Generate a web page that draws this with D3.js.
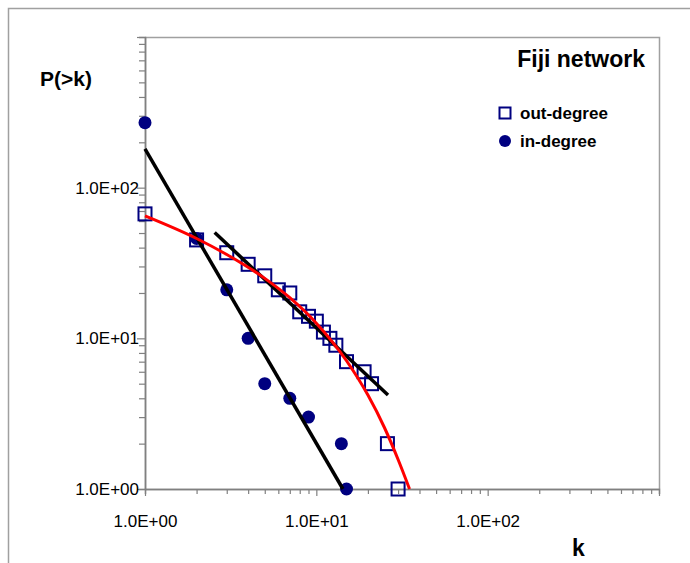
<!DOCTYPE html>
<html>
<head>
<meta charset="utf-8">
<script src="https://cdn.jsdelivr.net/npm/d3@7"></script>
<style>
  body { margin: 0; background: #fff; }
  text { font-family: "Liberation Sans", Arial, sans-serif; }
</style>
</head>
<body>
<div id="chart"></div>
<script>
// out-degree (open squares)
const outK = [1, 2, 3, 4, 5, 6, 7, 8, 9, 10, 11, 12, 13, 15, 19, 21, 26, 30];
const outP = [67, 45, 37, 31, 26, 21, 20, 15, 14, 13, 11, 10, 9, 7, 6, 5, 2, 1];
// in-degree (filled dots)
const inK = [1, 2, 3, 4, 5, 7, 9, 14, 15];
const inP = [270, 46, 21, 10, 5, 4, 3, 2, 1];
// power-law fit lines (end points)
const inFitK = [1, 14.3];
const inFitP = [181, 1];
const outFitK = [2.55, 26.2];
const outFitP = [50.4, 4.2];
// red cutoff curve
const curveK = [1, 2, 3, 5, 7, 10, 15, 20, 25, 30, 35];
const curveP = [65, 46, 36, 25, 18.6, 12.6, 7.1, 4.2, 2.55, 1.57, 1.0];

const majorTicks = [1, 10, 100, 1000];
const minorTicks = [];
[1, 10, 100].forEach(d => { for (let m = 2; m <= 9; m++) minorTicks.push(d * m); });

const width = 690, height = 563;
const plotLeft = 145, plotRight = 659, plotTop = 37, plotBottom = 489;
const navy = "#000080";
const grey = "#808080";

const svg = d3.select("#chart").append("svg")
  .attr("width", width)
  .attr("height", height);

// outer frame
svg.append("path")
  .attr("d", `M8.5,${height} V8.5 H${width}`)
  .attr("fill", "none")
  .attr("stroke", "#a0a0a0")
  .attr("stroke-width", 1.5);

const x = d3.scaleLog().domain([1, 1000]).range([plotLeft, plotRight]);
const y = d3.scaleLog().domain([1, 1000]).range([plotBottom, plotTop]);

const fmt = d => "1.0E+" + String(Math.round(Math.log10(d))).padStart(2, "0");

// plot frame (top + right)
svg.append("path")
  .attr("d", `M${plotLeft},${plotTop + 0.5} H${plotRight + 0.5} V${plotBottom}`)
  .attr("fill", "none")
  .attr("stroke", "#a0a0a0")
  .attr("stroke-width", 1.5);

function styleAxis(g) {
  g.attr("font-size", 17).attr("font-family", "'Liberation Sans', Arial, sans-serif");
  g.select(".domain").attr("stroke", grey).attr("stroke-width", 1.5);
  g.selectAll(".tick line").attr("stroke", grey).attr("stroke-width", 1.2);
  g.selectAll(".tick text")
    .attr("fill", "#000")
    .style("font-size", "17px");
}

// y axis
svg.append("g")
  .attr("transform", `translate(${plotLeft},0)`)
  .call(d3.axisLeft(y).tickValues(minorTicks).tickSize(6).tickFormat(""))
  .call(styleAxis);
svg.append("g")
  .attr("transform", `translate(${plotLeft},0)`)
  .call(d3.axisLeft(y).tickValues(majorTicks).tickSize(8).tickSizeOuter(0)
    .tickFormat(d => d < 1000 ? fmt(d) : ""))
  .call(styleAxis)
  .call(g => g.selectAll(".tick text").attr("x", -6));

// x axis
svg.append("g")
  .attr("transform", `translate(0,${plotBottom})`)
  .call(d3.axisBottom(x).tickValues(minorTicks).tickSize(5).tickFormat(""))
  .call(styleAxis);
svg.append("g")
  .attr("transform", `translate(0,${plotBottom})`)
  .call(d3.axisBottom(x).tickValues(majorTicks).tickSize(7).tickSizeOuter(0)
    .tickFormat(d => d < 1000 ? fmt(d) : ""))
  .call(styleAxis)
  .call(g => g.selectAll(".tick text").attr("y", 26));

// markers
const outData = outK.map((k, i) => ({ k, p: outP[i] }));
const inData = inK.map((k, i) => ({ k, p: inP[i] }));

svg.append("g").selectAll("circle")
  .data(inData)
  .join("circle")
  .attr("cx", d => x(d.k))
  .attr("cy", d => y(d.p))
  .attr("r", 6.5)
  .attr("fill", navy);

svg.append("g").selectAll("rect")
  .data(outData)
  .join("rect")
  .attr("x", d => x(d.k) - 6.5)
  .attr("y", d => y(d.p) - 6.5)
  .attr("width", 13)
  .attr("height", 13)
  .attr("fill", "none")
  .attr("stroke", navy)
  .attr("stroke-width", 2);

// fit lines
const line = d3.line().x(d => x(d[0])).y(d => y(d[1]));

svg.append("path")
  .attr("d", line(inFitK.map((k, i) => [k, inFitP[i]])))
  .attr("stroke", "#000")
  .attr("stroke-width", 3.5)
  .attr("fill", "none");

svg.append("path")
  .attr("d", line(outFitK.map((k, i) => [k, outFitP[i]])))
  .attr("stroke", "#000")
  .attr("stroke-width", 3.5)
  .attr("fill", "none");

svg.append("path")
  .attr("d", line.curve(d3.curveMonotoneX)(curveK.map((k, i) => [k, curveP[i]])))
  .attr("stroke", "#ff0000")
  .attr("stroke-width", 3)
  .attr("fill", "none");

// titles
svg.append("text")
  .attr("x", 645).attr("y", 67)
  .attr("text-anchor", "end")
  .style("font-size", "23px")
  .style("font-weight", "bold")
  .text("Fiji network");

svg.append("text")
  .attr("x", 40).attr("y", 86)
  .style("font-size", "21px")
  .style("font-weight", "bold")
  .text("P(>k)");

svg.append("text")
  .attr("x", 572).attr("y", 556)
  .style("font-size", "23px")
  .style("font-weight", "bold")
  .text("k");

// legend
const legend = svg.append("g").attr("transform", "translate(505,0)");
legend.append("rect")
  .attr("x", -5.5).attr("y", 107.5)
  .attr("width", 11).attr("height", 11)
  .attr("fill", "none")
  .attr("stroke", navy)
  .attr("stroke-width", 2);
legend.append("circle")
  .attr("cx", 0).attr("cy", 141)
  .attr("r", 6)
  .attr("fill", navy);
legend.append("text")
  .attr("x", 15).attr("y", 119)
  .style("font-size", "17px")
  .style("font-weight", "bold")
  .text("out-degree");
legend.append("text")
  .attr("x", 15).attr("y", 147)
  .style("font-size", "17px")
  .style("font-weight", "bold")
  .text("in-degree");
</script>
</body>
</html>
